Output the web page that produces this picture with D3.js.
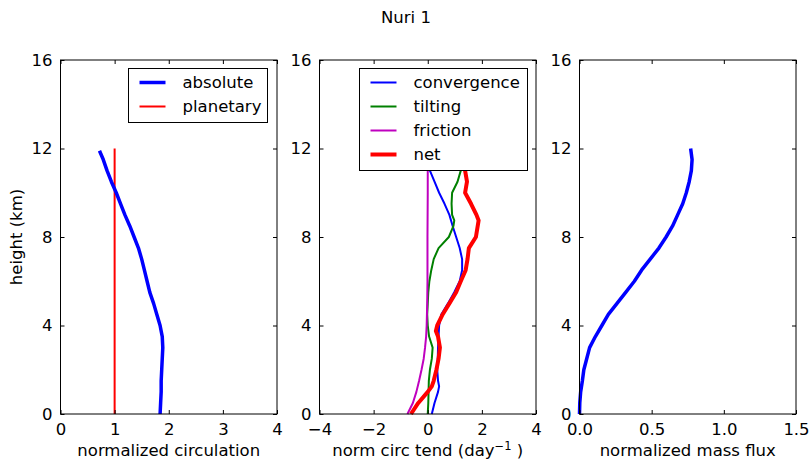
<!DOCTYPE html>
<html><head><meta charset="utf-8">
<script src="https://cdn.jsdelivr.net/npm/d3@7"></script>
<style>
body{margin:0;background:#fff;}
text{font-family:"DejaVu Sans",sans-serif;fill:#000;}
</style></head><body>
<svg id="c" width="811" height="463"></svg>
<script>
const title = "Nuri 1";
// panel 1: normalized circulation
const h1 = [0,0.5,1,1.5,2,2.5,3,3.5,4,4.5,5,5.5,6,6.5,7,7.5,8,8.5,9,9.5,10,10.5,11,11.5,11.9];
const absolute = [1.84,1.85,1.86,1.86,1.87,1.88,1.89,1.88,1.84,1.78,1.72,1.65,1.60,1.55,1.50,1.44,1.36,1.28,1.19,1.11,1.03,0.94,0.86,0.79,0.72];
const hPlan = [0,12];
const planetary = [1,1];
// panel 2: norm circ tendencies
const hConv = [0,0.5,1,1.25,1.5,2,2.5,3,3.5,4,4.5,5,5.5,6,6.5,7,7.5,8,8.5,9,9.5,10,10.5,11,11.5,12];
const convergence = [0.15,0.25,0.38,0.42,0.38,0.35,0.37,0.38,0.40,0.42,0.50,0.75,0.98,1.18,1.27,1.27,1.18,1.05,0.92,0.80,0.62,0.42,0.25,0.08,-0.05,-0.12];
const hTilt = [0,0.5,1,1.5,2,2.5,3,3.5,4,4.5,5,5.5,6,6.5,7,7.5,8,8.5,8.75,9,9.5,10,10.5,11,11.5,12];
const tilting = [0.0,0.02,0.03,0.04,0.08,0.15,0.18,0.05,0.0,-0.02,0.0,0.02,0.06,0.13,0.22,0.40,0.78,0.95,0.98,0.90,0.88,0.90,1.10,1.22,1.30,1.35];
const hFric = [0,0.5,1,1.5,2,2.5,3,3.5,4,5,6,8,10,12];
const friction = [-0.75,-0.55,-0.42,-0.32,-0.23,-0.15,-0.10,-0.06,-0.04,-0.02,-0.01,-0.01,0,0];
const hNet = [0,0.5,1,1.25,1.5,2,2.5,3,3.5,3.75,4,4.5,5,5.5,6,6.5,7,7.5,8,8.75,9,9.5,10,10.5,11,11.5,12];
const net = [-0.62,-0.35,0.0,0.15,0.22,0.32,0.40,0.45,0.38,0.30,0.35,0.55,0.80,1.05,1.22,1.40,1.47,1.52,1.78,1.88,1.80,1.60,1.38,1.45,1.38,1.30,1.25];
// panel 3: mass flux
const h3 = [0,0.5,1,1.5,2,2.5,3,3.5,4,4.5,5,5.5,6,6.5,7,7.5,8,8.5,9,9.5,10,10.5,11,11.5,12];
const massFlux = [0.0,0.002,0.008,0.02,0.03,0.05,0.07,0.11,0.155,0.20,0.26,0.32,0.38,0.43,0.49,0.55,0.60,0.645,0.68,0.715,0.74,0.76,0.775,0.78,0.77];

const yTicks = [0,4,8,12,16];
const x1Ticks = [0,1,2,3,4];
const x2Ticks = [-4,-2,0,2,4];
const x3Ticks = [0,0.5,1.0,1.5];

const svg = d3.select("#c");
const yTop = 60, yBot = 414, FS = 16.5;
const y = d3.scaleLinear().domain([0,16]).range([yBot, yTop]);

svg.append("text").attr("x",406).attr("y",22.5).attr("text-anchor","middle").attr("font-size",FS).text(title);

function panel(x0, x1, dom, xt, fmt, xlabel){
  const x = d3.scaleLinear().domain(dom).range([x0,x1]);
  const g = svg.append("g");
  const lines = g.append("g");
  const gx = g.append("g").attr("transform",`translate(0,${yBot})`)
    .call(d3.axisBottom(x).tickValues(xt).tickFormat(fmt).tickSizeInner(-4).tickSizeOuter(0).tickPadding(9.5));
  const gxt = g.append("g").attr("transform",`translate(0,${yTop})`)
    .call(d3.axisTop(x).tickValues(xt).tickFormat("").tickSizeInner(-4).tickSizeOuter(0));
  const gy = g.append("g").attr("transform",`translate(${x0},0)`)
    .call(d3.axisLeft(y).tickValues(yTicks).tickSizeInner(-4).tickSizeOuter(0).tickPadding(8));
  const gyr = g.append("g").attr("transform",`translate(${x1},0)`)
    .call(d3.axisRight(y).tickValues(yTicks).tickFormat("").tickSizeInner(-4).tickSizeOuter(0));
  [gx,gxt,gy,gyr].forEach(a=>{a.select(".domain").remove(); a.selectAll("text").attr("font-size",FS).attr("font-family","DejaVu Sans");});
  const lab = g.append("text").attr("x",(x0+x1)/2).attr("y",455.5).attr("text-anchor","middle").attr("font-size",FS);
  if (Array.isArray(xlabel)) { lab.append("tspan").text(xlabel[0]); lab.append("tspan").attr("dy",-6).attr("font-size",11.5).text(xlabel[1]); lab.append("tspan").attr("dy",6).text(xlabel[2]); }
  else lab.text(xlabel);
  g.append("rect").attr("x",x0).attr("y",yTop).attr("width",x1-x0).attr("height",yBot-yTop)
    .attr("fill","none").attr("stroke","#000").attr("stroke-width",1);
  return {x, g, lines};
}
function draw(p, hs, vs, color, w){
  const line = d3.line().x((d,i)=>p.x(vs[i])).y((d,i)=>y(hs[i]));
  p.lines.append("path").attr("d",line(hs)).attr("fill","none").attr("stroke",color).attr("stroke-width",w).attr("stroke-linejoin","round");
}
function legend(p, bx, by, bw, items){
  const lg = p.g.append("g");
  lg.append("rect").attr("x",bx).attr("y",by).attr("width",bw).attr("height",items.length*24+6)
    .attr("fill","#fff").attr("stroke","#000").attr("stroke-width",1);
  items.forEach((it,i)=>{
    const yy = by+14+i*24;
    lg.append("line").attr("x1",bx+11).attr("x2",bx+37).attr("y1",yy).attr("y2",yy).attr("stroke",it[1]).attr("stroke-width",it[2]);
    lg.append("text").attr("x",bx+54).attr("y",yy).attr("dy","0.35em").attr("font-size",FS).text(it[0]);
  });
}

const p1 = panel(60.5, 277, [0,4], x1Ticks, d3.format("d"), "normalized circulation");
draw(p1, hPlan, planetary, "#ff0000", 2);
draw(p1, h1, absolute, "#0000ff", 3.5);
legend(p1, 128.5, 68.5, 139, [["absolute","#0000ff",3.5],["planetary","#ff0000",2]]);

const p2 = panel(319.5, 536, [-4,4], x2Ticks, d3.format("d"), ["norm circ tend (day","−1"," )"]);
draw(p2, hConv, convergence, "#0000ff", 2);
draw(p2, hTilt, tilting, "#008000", 2);
draw(p2, hFric, friction, "#bf00bf", 2);
draw(p2, hNet, net, "#ff0000", 4);
legend(p2, 359.5, 68.5, 168, [["convergence","#0000ff",2],["tilting","#008000",2],["friction","#bf00bf",2],["net","#ff0000",4]]);

const p3 = panel(579.5, 796, [0,1.5], x3Ticks, d3.format(".1f"), "normalized mass flux");
draw(p3, h3, massFlux, "#0000ff", 3.5);

svg.append("text").attr("transform","translate(22,237) rotate(-90)").attr("text-anchor","middle").attr("font-size",FS).text("height (km)");
</script></body></html>
